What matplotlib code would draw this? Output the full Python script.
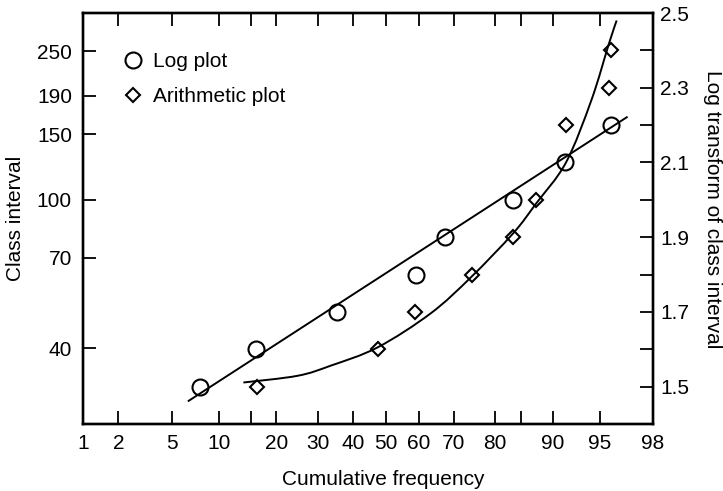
import math
import numpy as np
import matplotlib
matplotlib.use("Agg")
import matplotlib.pyplot as plt
from matplotlib.path import Path
from matplotlib.patches import PathPatch

plt.rcParams['font.family'] = ['Liberation Sans', 'DejaVu Sans']

# Log plot: cumulative frequency (%) and log10 of class interval
log_freq = [7.7, 15.9, 35.3, 59.1, 67.5, 83.6, 91.6, 95.8]
log_val = [1.5, 1.6, 1.7, 1.8, 1.9, 2.0, 2.1, 2.2]

# Arithmetic plot
arith_freq = [16.1, 47.5, 58.8, 74.6, 83.6, 87.6, 91.7, 95.7, 95.8]
arith_val = [1.5, 1.6, 1.7, 1.8, 1.9, 2.0, 2.2, 2.3, 2.4]

# fitted lines drawn on the chart
log_fit_freq = [6.5, 96.8]
log_fit_val = [1.462, 2.221]
arith_fit_freq = [13.7, 24.9, 33.6, 47.5, 63.5, 74.3, 83.6, 87.6, 91.7, 94.3, 95.7, 96.2]
arith_fit_val = [1.511, 1.529, 1.556, 1.605, 1.696, 1.792, 1.91, 1.99, 2.10, 2.267, 2.42, 2.48]

freq_ticks = [1, 2, 5, 10, 15, 20, 30, 40, 50, 60, 70, 80, 85, 90, 95, 98]
freq_labels = ['1', '2', '5', '10', '', '20', '30', '40', '50', '60', '70', '80', '', '90', '95', '98']
class_ticks = [40, 70, 100, 150, 190, 250]
log_ticks = [1.5, 1.7, 1.9, 2.1, 2.3, 2.5]


# normal quantile (Acklam) for a probability axis
_a = [-3.969683028665376e+01, 2.209460984245205e+02, -2.759285104469687e+02,
      1.383577518672690e+02, -3.066479806614716e+01, 2.506628277459239e+00]
_b = [-5.447609879822406e+01, 1.615858368580409e+02, -1.556989798598866e+02,
      6.680131188771972e+01, -1.328068155288572e+01]
_c = [-7.784894002430293e-03, -3.223964580411365e-01, -2.400758277161838e+00,
      -2.549732539343734e+00, 4.374664141464968e+00, 2.938163982698783e+00]
_d = [7.784695709041462e-03, 3.224671290700398e-01, 2.445134137142996e+00,
      3.754408661907416e+00]


def _ppf1(p):
    plow = 0.02425
    if p < plow:
        q = math.sqrt(-2 * math.log(p))
        return (((((_c[0]*q+_c[1])*q+_c[2])*q+_c[3])*q+_c[4])*q+_c[5]) / \
               ((((_d[0]*q+_d[1])*q+_d[2])*q+_d[3])*q+1)
    if p > 1 - plow:
        q = math.sqrt(-2 * math.log(1 - p))
        return -(((((_c[0]*q+_c[1])*q+_c[2])*q+_c[3])*q+_c[4])*q+_c[5]) / \
               ((((_d[0]*q+_d[1])*q+_d[2])*q+_d[3])*q+1)
    q = p - 0.5
    r = q * q
    return (((((_a[0]*r+_a[1])*r+_a[2])*r+_a[3])*r+_a[4])*r+_a[5])*q / \
           (((((_b[0]*r+_b[1])*r+_b[2])*r+_b[3])*r+_b[4])*r+1)


def probit(pct):
    p = np.clip(np.asarray(pct, dtype=float) / 100.0, 1e-9, 1 - 1e-9)
    return np.vectorize(_ppf1, otypes=[float])(p)


def inv_probit(z):
    z = np.asarray(z, dtype=float)
    return 50.0 * (1 + np.vectorize(math.erf, otypes=[float])(z / math.sqrt(2)))


def smooth_path(xs, ys):
    # Catmull-Rom through the read points, drawn as cubic Bezier segments
    z = probit(xs)
    v = np.asarray(ys, dtype=float)
    pts = np.column_stack([z, v])
    n = len(pts)
    verts = [pts[0]]
    codes = [Path.MOVETO]
    for i in range(n - 1):
        p0 = pts[max(i - 1, 0)]
        p1 = pts[i]
        p2 = pts[i + 1]
        p3 = pts[min(i + 2, n - 1)]
        verts += [p1 + (p2 - p0) / 6.0, p2 - (p3 - p1) / 6.0, p2]
        codes += [Path.CURVE4] * 3
    verts = np.array(verts)
    verts[:, 0] = inv_probit(verts[:, 0])
    return Path(verts, codes)


fig = plt.figure(figsize=(7.23, 4.91), dpi=100)
ax = fig.add_axes([0.1148, 0.1365, 0.7884, 0.837])
axr = ax.twinx()

ax.set_xscale('function', functions=(probit, inv_probit))
ax.set_xlim(1, 98)
ax.set_xticks(freq_ticks)
ax.set_xticklabels(freq_labels)
ax.xaxis.set_minor_locator(matplotlib.ticker.NullLocator())

ax.set_yscale('log')
ax.set_ylim(10 ** 1.4, 10 ** 2.5)
ax.set_yticks(class_ticks)
ax.set_yticklabels([str(t) for t in class_ticks])
ax.yaxis.set_minor_locator(matplotlib.ticker.NullLocator())

axr.set_ylim(1.4, 2.5)
axr.set_yticks(log_ticks)
axr.set_yticklabels([f"{t:.1f}" for t in log_ticks])
axr.set_yticks([1.6, 1.8, 2.0, 2.2, 2.4], minor=True)

ax.tick_params(axis='x', which='both', direction='in', length=9.5, width=1.3,
               top=True, labelsize=15, pad=7)
ax.tick_params(axis='y', which='both', direction='in', length=9.5, width=1.3,
               labelsize=15, pad=8)
axr.tick_params(axis='y', which='both', direction='in', length=9.5, width=1.3,
                labelsize=15, pad=5)

for a in (ax, axr):
    for s in a.spines.values():
        s.set_linewidth(1.7)

# fitted lines
axr.plot(log_fit_freq, log_fit_val, color='black', lw=1.4)
axr.add_patch(PathPatch(smooth_path(arith_fit_freq, arith_fit_val),
                        facecolor='none', edgecolor='black', lw=1.4))

# points
axr.plot(log_freq, log_val, linestyle='none', marker='o', ms=11.5, mfc='none',
         mec='black', mew=1.5, label='Log plot')
axr.plot(arith_freq, arith_val, linestyle='none', marker='D', ms=7, mfc='none',
         mec='black', mew=1.5, label='Arithmetic plot')

axr.legend(loc='upper left', bbox_to_anchor=(0.0695, 0.905), frameon=False,
           fontsize=15, handlelength=1.0, handletextpad=0.46, labelspacing=0.78,
           borderpad=0, borderaxespad=0)

ax.set_xlabel('Cumulative frequency', fontsize=15)
ax.xaxis.set_label_coords(0.526, -0.112)
ax.set_ylabel('Class interval', fontsize=15)
ax.yaxis.set_label_coords(-0.102, 0.5)
axr.set_ylabel('Log transform of class interval', fontsize=15, rotation=270, va='center')
axr.yaxis.set_label_coords(1.105, 0.523)

fig.savefig('out.png', dpi=100)
